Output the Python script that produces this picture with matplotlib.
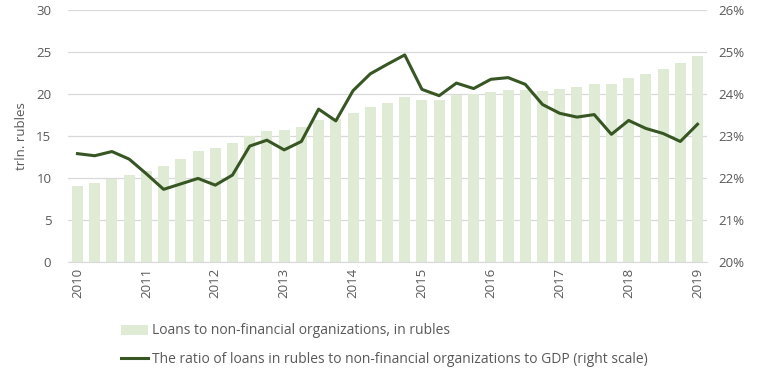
import matplotlib.pyplot as plt
import numpy as np

plt.rcParams['font.family'] = ['Open Sans', 'DejaVu Sans']

# quarterly, 2010 Q1 .. 2019 Q1
years = ['2010', '2011', '2012', '2013', '2014', '2015', '2016', '2017', '2018', '2019']
loans = [9.1, 9.4, 9.9, 10.4, 10.8, 11.4, 12.3, 13.2, 13.6, 14.2,
         15.0, 15.6, 15.7, 16.1, 16.9, 17.0, 17.7, 18.5, 18.9, 19.6,
         19.3, 19.3, 19.9, 20.0, 20.2, 20.5, 20.5, 20.4, 20.6, 20.8,
         21.2, 21.2, 21.9, 22.4, 23.0, 23.7, 24.5]
ratio = [22.58, 22.53, 22.63, 22.45, 22.10, 21.73, 21.86, 21.99, 21.83, 22.07,
         22.76, 22.90, 22.67, 22.87, 23.64, 23.36, 24.08, 24.48, 24.71, 24.93,
         24.11, 23.96, 24.26, 24.13, 24.35, 24.39, 24.23, 23.75, 23.54, 23.45,
         23.51, 23.04, 23.37, 23.18, 23.06, 22.87, 23.28]

bar_label = 'Loans to non-financial organizations, in rubles'
line_label = 'The ratio of loans in rubles to non-financial organizations to GDP (right scale)'

txt = '#595959'
x = np.arange(len(loans))

fig = plt.figure(figsize=(7.61, 3.82), dpi=100)
ax = fig.add_axes([68/761, 1-262/382, (707-68)/761, (262-10)/382])
ax2 = ax.twinx()

b = ax.bar(x, loans, width=0.64, color='#dfebd5', zorder=2, label=bar_label)
l, = ax2.plot(x, ratio, color='#375623', lw=2.2, zorder=3, label=line_label)

ax.set_ylim(0, 30)
ax.set_yticks(range(0, 31, 5))
ax2.set_ylim(20, 26)
ax2.set_yticks(range(20, 27))
ax2.set_yticklabels([f'{v}%' for v in range(20, 27)])
ax.set_xlim(-0.55, len(loans) - 0.45)
ax.set_xticks(x[::4])
ax.set_xticklabels(years, rotation=90)

ax.grid(axis='y', color='#d9d9d9', lw=0.9, zorder=0)
ax.set_axisbelow(True)
for a in (ax, ax2):
    for s in a.spines.values():
        s.set_visible(False)
    a.tick_params(length=0, colors=txt, labelsize=9.5)
ax.spines['bottom'].set_visible(True)
ax.spines['bottom'].set_color('#d9d9d9')
ax.tick_params(axis='x', pad=4)
ax.tick_params(axis='y', pad=12)
ax2.tick_params(axis='y', pad=8)
ax.set_ylabel('trln. rubles', color=txt, fontsize=9.5, labelpad=6)

fig.legend([b, l], [bar_label, line_label], loc='upper left',
           bbox_to_anchor=(108/761, 1-311/382), ncol=1, frameon=False,
           fontsize=10, labelcolor=txt, handlelength=2.0, handletextpad=0.3,
           labelspacing=0.95)

fig.savefig('out.png', dpi=100)
